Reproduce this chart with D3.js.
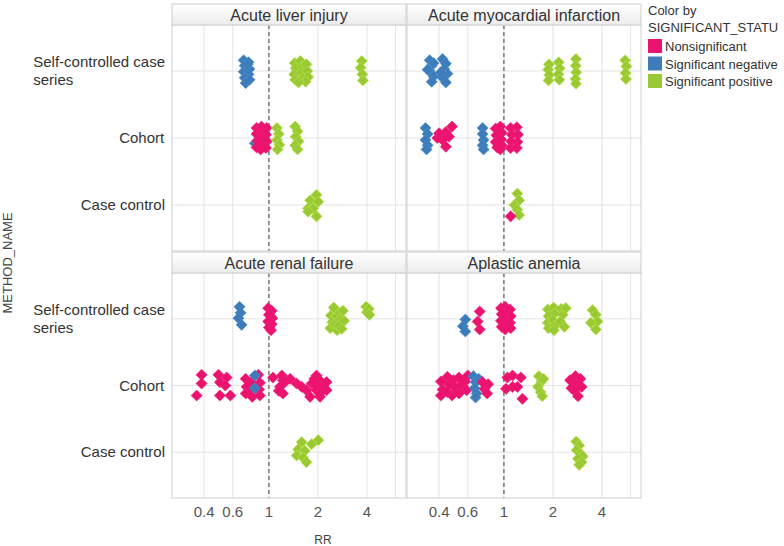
<!DOCTYPE html>
<html><head><meta charset="utf-8">
<script src="https://cdn.jsdelivr.net/npm/d3@7"></script>
<style>
body{margin:0;background:#fff;}
svg{font-family:"Liberation Sans",Arial,sans-serif;}
</style></head><body>
<svg id="chart" width="784" height="546"></svg>
<script>
// ---------------- data ----------------
const methods = ["Self-controlled case series", "Cohort", "Case control"];
const methodLines = [["Self-controlled case", "series"], ["Cohort"], ["Case control"]];
const statuses = ["Nonsignificant", "Significant negative", "Significant positive"];
const statusColors = ["#E9146E", "#3D7CB8", "#9BC935"];
const outcomes = ["Acute liver injury", "Acute myocardial infarction", "Acute renal failure", "Aplastic anemia"];
const tickValues = [0.4, 0.6, 1, 2, 4];
const gridValues = [0.4, 0.6, 1, 2, 4, 6];

// [methodIndex, statusIndex, RR, vertical jitter (fraction of row)]
const liverPoints = [
 [0,1,0.70,-0.16],[0,1,0.75,-0.13],[0,1,0.71,-0.08],[0,1,0.76,-0.03],[0,1,0.70,0.01],[0,1,0.75,0.05],[0,1,0.71,0.10],[0,1,0.76,0.13],[0,1,0.72,0.18],[0,1,0.74,-0.10],
 [0,2,1.44,-0.12],[0,2,1.46,-0.04],[0,2,1.43,0.05],[0,2,1.45,0.13],[0,2,1.56,-0.15],[0,2,1.60,-0.07],[0,2,1.58,0.02],[0,2,1.62,0.10],[0,2,1.70,-0.10],[0,2,1.72,0.0],[0,2,1.74,0.09],[0,2,1.68,0.16],[0,2,1.52,0.17],
 [0,2,3.72,-0.15],[0,2,3.66,-0.05],[0,2,3.75,0.05],[0,2,3.78,0.14],
 [1,1,0.82,0.08],
 [1,0,0.84,-0.15],[1,0,0.84,-0.06],[1,0,0.85,0.04],[1,0,0.84,0.14],[1,0,0.90,-0.17],[1,0,0.91,-0.08],[1,0,0.90,0.02],[1,0,0.91,0.11],[1,0,0.89,0.17],[1,0,0.97,-0.15],[1,0,0.96,-0.05],[1,0,0.97,0.05],[1,0,0.96,0.15],
 [1,2,1.12,-0.15],[1,2,1.15,-0.06],[1,2,1.12,0.03],[1,2,1.16,0.10],[1,2,1.13,0.17],
 [1,2,1.45,-0.17],[1,2,1.50,-0.10],[1,2,1.46,-0.02],[1,2,1.52,0.05],[1,2,1.45,0.11],[1,2,1.50,0.17],
 [2,2,1.96,-0.15],[2,2,1.79,-0.07],[2,2,2.01,-0.05],[2,2,1.74,0.05],[2,2,1.87,0.05],[2,2,1.74,0.10],[2,2,1.96,0.17]
];
const amiPoints = [
 [0,1,0.35,-0.16],[0,1,0.36,-0.08],[0,1,0.35,0.0],[0,1,0.37,0.08],[0,1,0.36,0.16],[0,1,0.34,-0.02],[0,1,0.37,-0.12],
 [0,1,0.42,-0.18],[0,1,0.44,-0.11],[0,1,0.43,-0.03],[0,1,0.45,0.04],[0,1,0.42,0.10],[0,1,0.44,0.17],[0,1,0.41,0.02],
 [0,2,1.89,-0.10],[0,2,1.87,-0.02],[0,2,1.90,0.06],[0,2,1.88,0.14],
 [0,2,2.17,-0.13],[0,2,2.20,-0.04],[0,2,2.16,0.05],[0,2,2.19,0.13],
 [0,2,2.77,-0.18],[0,2,2.76,-0.08],[0,2,2.78,0.02],[0,2,2.75,0.12],[0,2,2.77,0.19],
 [0,2,5.55,-0.16],[0,2,5.65,-0.07],[0,2,5.58,0.03],[0,2,5.62,0.12],
 [1,1,0.33,-0.15],[1,1,0.34,-0.06],[1,1,0.33,0.03],[1,1,0.34,0.11],[1,1,0.335,0.17],
 [1,0,0.40,-0.07],[1,0,0.44,-0.09],[1,0,0.48,-0.17],[1,0,0.46,-0.02],[1,0,0.42,0.03],[1,0,0.44,0.13],[1,0,0.39,0.0],
 [1,1,0.74,-0.15],[1,1,0.74,-0.06],[1,1,0.75,0.03],[1,1,0.74,0.11],[1,1,0.75,0.17],
 [1,0,0.89,-0.14],[1,0,0.90,-0.04],[1,0,0.89,0.06],[1,0,0.91,0.14],[1,0,0.95,-0.17],[1,0,0.97,-0.08],[1,0,0.96,0.02],[1,0,0.97,0.11],[1,0,0.95,0.17],
 [1,0,1.10,-0.15],[1,0,1.12,-0.05],[1,0,1.11,0.05],[1,0,1.10,0.15],[1,0,1.20,-0.16],[1,0,1.22,-0.05],[1,0,1.21,0.06],[1,0,1.20,0.15],
 [2,2,1.21,-0.17],[2,2,1.24,-0.07],[2,2,1.16,0.0],[2,2,1.21,0.07],[2,2,1.24,0.15],
 [2,0,1.10,0.17]
];
const renalPoints = [
 [0,1,0.66,-0.18],[0,1,0.67,-0.09],[0,1,0.65,-0.01],[0,1,0.68,0.09],
 [0,0,0.99,-0.16],[0,0,1.04,-0.12],[0,0,1.00,-0.06],[0,0,1.05,-0.01],[0,0,0.99,0.04],[0,0,1.04,0.08],[0,0,1.00,0.13],[0,0,1.03,0.17],
 [0,2,2.40,-0.05],[0,2,2.45,0.05],[0,2,2.38,0.14],[0,2,2.55,-0.14],[0,2,2.60,-0.04],[0,2,2.52,0.08],[0,2,2.62,0.17],[0,2,2.72,-0.09],[0,2,2.75,0.01],[0,2,2.68,0.11],[0,2,2.85,-0.12],[0,2,2.90,0.03],[0,2,2.80,0.15],[0,2,2.50,-0.17],
 [0,2,3.95,-0.18],[0,2,4.10,-0.15],[0,2,4.00,-0.10],[0,2,4.15,-0.06],
 [1,0,0.386,-0.16],[1,0,0.386,-0.03],[1,0,0.36,0.15],
 [1,0,0.49,-0.16],[1,0,0.55,-0.12],[1,0,0.50,-0.05],[1,0,0.54,0.0],[1,0,0.50,0.15],[1,0,0.58,0.15],
 [1,0,0.72,-0.10],[1,0,0.73,0.02],[1,0,0.72,0.12],[1,0,0.78,-0.05],[1,0,0.80,0.08],[1,0,0.79,0.17],[1,0,0.86,-0.16],[1,0,0.88,-0.04],[1,0,0.87,0.06],[1,0,0.88,0.15],
 [1,1,0.82,-0.15],[1,1,0.82,0.04],
 [1,0,1.06,-0.12],[1,0,1.20,-0.15],[1,0,1.25,-0.05],[1,0,1.17,0.02],[1,0,1.22,0.12],[1,0,1.15,0.08],[1,0,1.22,-0.08],
 [1,0,1.35,-0.10],[1,0,1.48,-0.03],[1,0,1.59,0.02],[1,0,1.70,0.07],[1,0,1.83,-0.03],[1,0,1.96,-0.15],[1,0,2.06,-0.07],[1,0,2.16,0.02],[1,0,1.96,0.07],[1,0,1.79,0.17],[1,0,2.06,0.17],[1,0,2.26,-0.05],[1,0,2.26,0.07],[1,0,1.95,0.0],[1,0,2.05,0.12],[1,0,1.90,-0.10],
 [2,2,2.01,-0.18],[2,2,1.83,-0.12],[2,2,1.59,-0.15],[2,2,1.51,-0.04],[2,2,1.66,-0.02],[2,2,1.48,0.05],[2,2,1.62,0.08],[2,2,1.70,0.15]
];
const anemiaPoints = [
 [0,1,0.58,0.01],[0,1,0.56,0.11],[0,1,0.58,0.19],
 [0,0,0.71,-0.11],[0,0,0.69,0.04],[0,0,0.71,0.16],
 [0,0,0.96,-0.16],[0,0,0.97,-0.07],[0,0,0.96,0.03],[0,0,0.97,0.12],[0,0,1.02,-0.18],[0,0,1.03,-0.10],[0,0,1.02,-0.01],[0,0,1.03,0.08],[0,0,1.02,0.16],[0,0,1.09,-0.14],[0,0,1.10,-0.04],[0,0,1.09,0.06],[0,0,1.10,0.14],
 [0,2,1.86,-0.14],[0,2,1.88,-0.04],[0,2,1.86,0.06],[0,2,1.88,0.14],[0,2,2.02,-0.17],[0,2,2.05,-0.08],[0,2,2.00,0.02],[0,2,2.06,0.10],[0,2,2.03,0.17],[0,2,2.25,-0.15],[0,2,2.30,-0.06],[0,2,2.22,0.04],[0,2,2.35,0.12],[0,2,2.40,-0.16],
 [0,2,3.50,-0.13],[0,2,3.67,-0.06],[0,2,3.76,0.04],[0,2,3.42,0.06],[0,2,3.67,0.16],
 [1,0,0.41,-0.06],[1,0,0.42,0.06],[1,0,0.41,0.15],[1,0,0.45,-0.13],[1,0,0.46,-0.02],[1,0,0.45,0.10],[1,0,0.49,-0.08],[1,0,0.50,0.03],[1,0,0.48,0.15],[1,0,0.53,-0.12],[1,0,0.54,0.0],[1,0,0.53,0.12],[1,0,0.58,-0.06],[1,0,0.59,0.07],[1,0,0.60,-0.15],
 [1,1,0.65,-0.14],[1,1,0.67,-0.05],[1,1,0.66,0.04],[1,1,0.68,0.12],[1,1,0.70,-0.10],[1,1,0.67,0.18],
 [1,0,0.74,-0.05],[1,0,0.76,0.05],[1,0,0.79,0.12],[1,0,0.80,-0.02],
 [1,0,1.05,-0.12],[1,0,1.13,-0.15],[1,0,1.27,-0.12],[1,0,1.03,0.05],[1,0,1.13,0.02],[1,0,1.21,0.02],[1,0,1.30,0.20],
 [1,2,1.64,-0.14],[1,2,1.70,-0.06],[1,2,1.62,0.02],[1,2,1.68,0.10],[1,2,1.75,-0.10],[1,2,1.72,0.16],
 [1,0,2.55,-0.08],[1,0,2.60,0.04],[1,0,2.75,-0.14],[1,0,2.80,-0.04],[1,0,2.72,0.08],[1,0,2.85,0.16],[1,0,2.95,-0.10],[1,0,3.00,0.02],
 [2,2,2.78,-0.16],[2,2,2.90,-0.10],[2,2,2.80,-0.03],[2,2,2.95,0.02],[2,2,3.05,0.06],[2,2,2.85,0.10],[2,2,3.00,0.15],[2,2,2.90,0.19]
];
const panelPoints = [liverPoints, amiPoints, renalPoints, anemiaPoints];

// ---------------- layout ----------------
const svg = d3.select("#chart");
const colX = [172, 407];
const panelW = 234;
const rowsY = [{strip: 4, top: 25, bottom: 251}, {strip: 252, top: 273, bottom: 498}];
const x = d3.scaleLog().domain([0.254, 6.95]).range([0, panelW]);
const color = d3.scaleOrdinal().domain([0,1,2]).range(statusColors);
const diamond = d3.symbol().type(d3.symbolSquare).size(62);

// gradient for strips
const defs = svg.append("defs");
const grad = defs.append("linearGradient").attr("id", "stripGrad").attr("x1", 0).attr("x2", 0).attr("y1", 0).attr("y2", 1);
grad.append("stop").attr("offset", "0%").attr("stop-color", "#ffffff");
grad.append("stop").attr("offset", "100%").attr("stop-color", "#ececec");

outcomes.forEach((name, i) => {
  const col = i % 2, row = Math.floor(i / 2);
  const x0 = colX[col], r = rowsY[row];
  const h = r.bottom - r.top;
  const y = d3.scalePoint().domain([0,1,2]).range([0, h]).padding(0.687);
  const step = y.step();
  const g = svg.append("g").attr("transform", `translate(${x0},${r.top})`);

  // grid
  g.selectAll(".vg").data(gridValues).join("line")
    .attr("x1", d => x(d)).attr("x2", d => x(d)).attr("y1", 0).attr("y2", h)
    .attr("stroke", "#e3e3e3").attr("stroke-width", 1);
  g.selectAll(".hg").data([0,1,2]).join("line")
    .attr("x1", 0).attr("x2", panelW).attr("y1", d => y(d)).attr("y2", d => y(d))
    .attr("stroke", "#e3e3e3").attr("stroke-width", 1);
  // reference line at RR = 1
  g.append("line").attr("x1", x(1)).attr("x2", x(1)).attr("y1", 0).attr("y2", h)
    .attr("stroke", "#666").attr("stroke-width", 1.3).attr("stroke-dasharray", "4,3");

  // points
  g.selectAll("path.pt").data(panelPoints[i]).join("path")
    .attr("class", "pt")
    .attr("d", diamond)
    .attr("transform", d => `translate(${x(d[2])},${y(d[0]) + d[3] * step}) rotate(45)`)
    .attr("fill", d => color(d[1]))
    .attr("stroke", d => d3.color(color(d[1])).brighter(0.4))
    .attr("stroke-width", 0.6);

  // panel border
  g.append("rect").attr("x", 0).attr("y", 0).attr("width", panelW).attr("height", h)
    .attr("fill", "none").attr("stroke", "#cfcfcf");

  // strip
  const sg = svg.append("g").attr("transform", `translate(${x0},${r.strip})`);
  sg.append("rect").attr("width", panelW).attr("height", r.top - r.strip)
    .attr("fill", "url(#stripGrad)").attr("stroke", "#cfcfcf");
  sg.append("text").attr("x", panelW / 2).attr("y", (r.top - r.strip) / 2 + 6)
    .attr("text-anchor", "middle").attr("font-size", 16).attr("fill", "#333").text(name);

  // x tick labels (bottom row only)
  if (row === 1) {
    svg.append("g").selectAll("text").data(tickValues).join("text")
      .attr("x", d => x0 + x(d)).attr("y", 517)
      .attr("text-anchor", "middle").attr("font-size", 15).attr("fill", "#555")
      .text(d => d3.format("~g")(d));
  }
  // y labels (left column only)
  if (col === 0) {
    methods.forEach((m, mi) => {
      const lines = methodLines[mi];
      const cy = r.top + y(mi);
      const t = svg.append("text").attr("font-size", 15).attr("fill", "#333");
      lines.forEach((ln, li) => {
        t.append("tspan").attr("x", 0).attr("y", cy + 5 + (li - (lines.length - 1) / 2) * 18).text(ln);
      });
      const w = t.node().getBBox().width;
      t.attr("transform", `translate(${165 - w},0)`);
    });
  }
});

// axis titles
svg.append("text").attr("x", 323).attr("y", 544).attr("text-anchor", "middle")
  .attr("font-size", 12).attr("fill", "#444").text("RR");
svg.append("text").attr("transform", "translate(12,263) rotate(-90)").attr("text-anchor", "middle")
  .attr("font-size", 13).attr("fill", "#444").text("METHOD_NAME");

// legend
const lg = svg.append("g").attr("transform", "translate(648,0)");
lg.append("text").attr("x", 0).attr("y", 15).attr("font-size", 13).attr("fill", "#333").text("Color by");
lg.append("text").attr("x", 0).attr("y", 32).attr("font-size", 13).attr("fill", "#333").text("SIGNIFICANT_STATU");
statuses.forEach((s, i) => {
  lg.append("rect").attr("x", 0).attr("y", 39 + i * 17.5).attr("width", 14).attr("height", 14).attr("fill", statusColors[i]);
  lg.append("text").attr("x", 17).attr("y", 51 + i * 17.5).attr("font-size", 13).attr("fill", "#333").text(s);
});
</script>
</body></html>
